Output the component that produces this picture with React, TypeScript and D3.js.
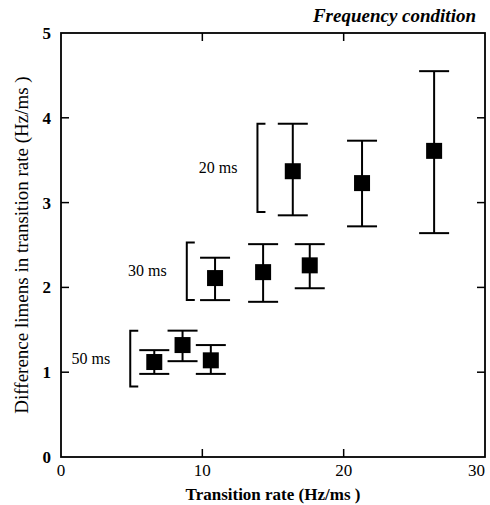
import React from "react";
import * as d3 from "d3";

// Values
const groups = ["50 ms", "30 ms", "20 ms"];
const rates = [
  [6.6, 8.6, 10.6],
  [10.9, 14.3, 17.6],
  [16.4, 21.3, 26.4],
];
const means = [
  [1.12, 1.32, 1.14],
  [2.11, 2.18, 2.26],
  [3.37, 3.23, 3.61],
];
const upper = [
  [1.26, 1.49, 1.32],
  [2.35, 2.51, 2.51],
  [3.93, 3.73, 4.55],
];
const lower = [
  [0.98, 1.13, 0.98],
  [1.85, 1.83, 1.99],
  [2.85, 2.72, 2.64],
];
// bracket spans (value range) and x-position (rate) for each group
const bracketTop = [1.49, 2.53, 3.93];
const bracketBottom = [0.83, 1.85, 2.89];
const bracketRate = [4.9, 8.9, 13.9];
const xTicks = [0, 10, 20, 30];
const yTicks = [0, 1, 2, 3, 4, 5];

const width = 490;
const height = 505;
const marginLeft = 61;
const marginRight = 5;
const marginTop = 33;
const marginBottom = 48;

const App = () => {
  const x = d3.scaleLinear().domain([0, 30]).range([marginLeft, width - marginRight]);
  const y = d3.scaleLinear().domain([0, 5]).range([height - marginBottom, marginTop]);
  const font = "'Liberation Serif', 'Times New Roman', serif";
  const box = 16;
  const cap = 15;

  return (
    <svg
      width={width}
      height={height}
      style={{ position: "absolute", left: 0, top: 0, background: "#fff" }}
    >
      {/* frame */}
      <rect
        x={x(0)}
        y={y(5)}
        width={x(30) - x(0)}
        height={y(0) - y(5)}
        fill="none"
        stroke="#000"
        strokeWidth={1.8}
      />
      {/* ticks, inward on all sides */}
      {yTicks.slice(1, -1).map((t) => (
        <g key={"y" + t}>
          <line x1={x(0)} x2={x(0) + 8} y1={y(t)} y2={y(t)} stroke="#000" strokeWidth={1.5} />
          <line x1={x(30)} x2={x(30) - 8} y1={y(t)} y2={y(t)} stroke="#000" strokeWidth={1.5} />
        </g>
      ))}
      {xTicks.slice(1, -1).map((t) => (
        <g key={"x" + t}>
          <line x1={x(t)} x2={x(t)} y1={y(0)} y2={y(0) - 8} stroke="#000" strokeWidth={1.5} />
          <line x1={x(t)} x2={x(t)} y1={y(5)} y2={y(5) + 8} stroke="#000" strokeWidth={1.5} />
        </g>
      ))}
      {/* tick labels */}
      {yTicks.map((t) => (
        <text
          key={"yl" + t}
          x={x(0) - 10}
          y={y(t) + 6}
          textAnchor="end"
          fontFamily={font}
          fontSize={17}
          fontWeight="bold"
        >
          {t}
        </text>
      ))}
      {xTicks.map((t) => (
        <text
          key={"xl" + t}
          x={x(t)}
          y={y(0) + 19}
          textAnchor={t === 30 ? "end" : "middle"}
          fontFamily={font}
          fontSize={17}
        >
          {t}
        </text>
      ))}
      {/* axis titles */}
      <text
        x={x(15)}
        y={height - 5}
        textAnchor="middle"
        fontFamily={font}
        fontSize={17}
        fontWeight="bold"
      >
        Transition rate (Hz/ms    )
      </text>
      <text
        transform={`translate(28,${y(2.5)}) rotate(-90)`}
        textAnchor="middle"
        fontFamily={font}
        fontSize={19}
      >
        Difference limens in transition rate (Hz/ms    )
      </text>
      <text
        x={width - 14}
        y={22}
        textAnchor="end"
        fontFamily={font}
        fontSize={19}
        fontWeight="bold"
        fontStyle="italic"
      >
        Frequency condition
      </text>

      {groups.map((g, gi) => {
        const bx = x(bracketRate[gi]);
        const by0 = y(bracketTop[gi]);
        const by1 = y(bracketBottom[gi]);
        return (
          <g key={g}>
            <path
              d={`M${bx + 8},${by0}H${bx}V${by1}H${bx + 8}`}
              fill="none"
              stroke="#000"
              strokeWidth={2}
            />
            <text
              x={bx - 20}
              y={(by0 + by1) / 2 + 5}
              textAnchor="end"
              fontFamily={font}
              fontSize={16}
            >
              {g}
            </text>
            {rates[gi].map((r, i) => {
              const cx = x(r);
              return (
                <g key={i}>
                  <line x1={cx} x2={cx} y1={y(upper[gi][i])} y2={y(lower[gi][i])} stroke="#000" strokeWidth={2} />
                  <line x1={cx - cap} x2={cx + cap} y1={y(upper[gi][i])} y2={y(upper[gi][i])} stroke="#000" strokeWidth={2} />
                  <line x1={cx - cap} x2={cx + cap} y1={y(lower[gi][i])} y2={y(lower[gi][i])} stroke="#000" strokeWidth={2} />
                  <rect x={cx - box / 2} y={y(means[gi][i]) - box / 2} width={box} height={box} fill="#000" />
                </g>
              );
            })}
          </g>
        );
      })}
    </svg>
  );
};

export default App;
